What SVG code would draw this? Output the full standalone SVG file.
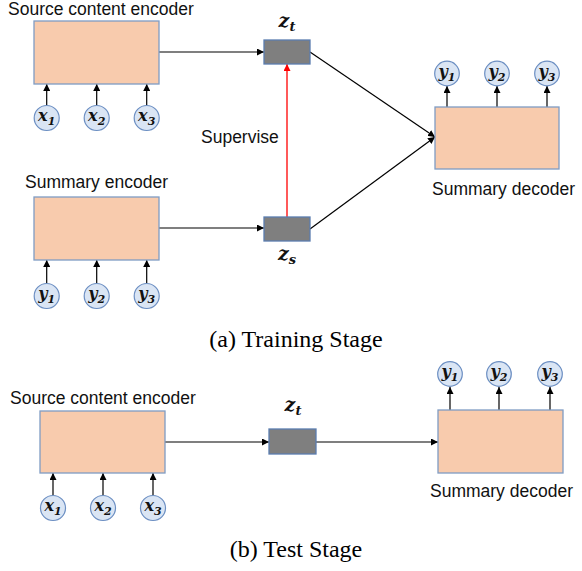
<svg xmlns="http://www.w3.org/2000/svg" width="582" height="571" viewBox="0 0 582 571">
<defs>
<marker id="ah" viewBox="0 0 10 10" refX="10" refY="5" markerWidth="7" markerHeight="7" markerUnits="userSpaceOnUse" orient="auto"><path d="M0,0 L10,5 L0,10 z" fill="#000"/></marker>
<marker id="ahr" viewBox="0 0 10 10" refX="10" refY="5" markerWidth="7" markerHeight="7" markerUnits="userSpaceOnUse" orient="auto"><path d="M0,0 L10,5 L0,10 z" fill="#ff0000"/></marker>
<style>
.box{fill:#f8cbad;stroke:#7f9cc4;stroke-width:1.3}
.lat{fill:#7f7f7f;stroke:#5b7db0;stroke-width:1.3}
.cir{fill:#dae5f4;stroke:#6b8ec2;stroke-width:1.2}
.ln{stroke:#000;stroke-width:1.2;fill:none;marker-end:url(#ah)}
.red{stroke:#ff0000;stroke-width:1.3;fill:none;marker-end:url(#ahr)}
.lbl{font-family:"Liberation Sans",Arial,sans-serif;font-size:17.5px;fill:#111}
.m{font-family:"DejaVu Serif","Liberation Serif",serif;font-weight:bold;font-style:italic;font-size:16px;fill:#111}
.z{font-size:19px}
.sub{font-size:11px}
.cap{font-family:"Liberation Serif","Times New Roman",serif;font-size:24px;fill:#000}
</style>
</defs>
<g id="connectors">
<line class="ln" x1="159" y1="52" x2="264" y2="52"/>
<line class="ln" x1="159" y1="228" x2="264" y2="228"/>
<line class="red" x1="287" y1="217" x2="287" y2="64"/>
<line class="ln" x1="310" y1="52" x2="435" y2="137"/>
<line class="ln" x1="310" y1="229" x2="435" y2="137"/>
<line class="ln" x1="46.7" y1="105" x2="46.7" y2="84"/>
<line class="ln" x1="96.7" y1="105" x2="96.7" y2="84"/>
<line class="ln" x1="146.7" y1="105" x2="146.7" y2="84"/>
<line class="ln" x1="46.7" y1="283" x2="46.7" y2="260"/>
<line class="ln" x1="96.7" y1="283" x2="96.7" y2="260"/>
<line class="ln" x1="146.7" y1="283" x2="146.7" y2="260"/>
<line class="ln" x1="447" y1="107" x2="447" y2="86"/>
<line class="ln" x1="497" y1="107" x2="497" y2="86"/>
<line class="ln" x1="547" y1="107" x2="547" y2="86"/>
<line class="ln" x1="165" y1="442" x2="269" y2="442"/>
<line class="ln" x1="316" y1="442" x2="438" y2="442"/>
<line class="ln" x1="53" y1="495" x2="53" y2="473"/>
<line class="ln" x1="103" y1="495" x2="103" y2="473"/>
<line class="ln" x1="153" y1="495" x2="153" y2="473"/>
<line class="ln" x1="450" y1="410" x2="450" y2="387"/>
<line class="ln" x1="499" y1="410" x2="499" y2="387"/>
<line class="ln" x1="550" y1="410" x2="550" y2="387"/>
</g>
<g id="src_enc_a">
<rect class="box" x="34" y="21" width="125" height="63"/>
<text class="lbl" x="8" y="15">Source content encoder</text>
</g>
<g id="x_a">
<circle class="cir" cx="46.7" cy="118" r="12.5"/><text class="m" x="46.7" y="121" text-anchor="middle">x<tspan class="sub" dy="4">1</tspan></text>
<circle class="cir" cx="96.7" cy="118" r="12.5"/><text class="m" x="96.7" y="121" text-anchor="middle">x<tspan class="sub" dy="4">2</tspan></text>
<circle class="cir" cx="146.7" cy="118" r="12.5"/><text class="m" x="146.7" y="121" text-anchor="middle">x<tspan class="sub" dy="4">3</tspan></text>
</g>
<g id="sum_enc">
<rect class="box" x="34" y="197" width="125" height="63"/>
<text class="lbl" x="25" y="188">Summary encoder</text>
</g>
<g id="y_enc">
<circle class="cir" cx="46.7" cy="296" r="12.5"/><text class="m" x="46.7" y="299" text-anchor="middle">y<tspan class="sub" dy="4">1</tspan></text>
<circle class="cir" cx="96.7" cy="296" r="12.5"/><text class="m" x="96.7" y="299" text-anchor="middle">y<tspan class="sub" dy="4">2</tspan></text>
<circle class="cir" cx="146.7" cy="296" r="12.5"/><text class="m" x="146.7" y="299" text-anchor="middle">y<tspan class="sub" dy="4">3</tspan></text>
</g>
<g id="zt_a">
<rect class="lat" x="264" y="40" width="46" height="24"/>
<text class="m z" x="287" y="27" text-anchor="middle">z<tspan class="sub" dy="4" style="font-size:13px">t</tspan></text>
</g>
<g id="zs">
<rect class="lat" x="264" y="217" width="46" height="24"/>
<text class="m z" x="287" y="260" text-anchor="middle">z<tspan class="sub" dy="4" style="font-size:13px">s</tspan></text>
</g>
<g id="supervise"><text class="lbl" x="201" y="143">Supervise</text></g>
<g id="sum_dec_a">
<rect class="box" x="435" y="107" width="124" height="62"/>
<text class="lbl" x="432" y="195">Summary decoder</text>
</g>
<g id="y_dec_a">
<circle class="cir" cx="447" cy="73.5" r="12.3"/><text class="m" x="447" y="76.5" text-anchor="middle">y<tspan class="sub" dy="4">1</tspan></text>
<circle class="cir" cx="497" cy="73.5" r="12.3"/><text class="m" x="497" y="76.5" text-anchor="middle">y<tspan class="sub" dy="4">2</tspan></text>
<circle class="cir" cx="547" cy="73.5" r="12.3"/><text class="m" x="547" y="76.5" text-anchor="middle">y<tspan class="sub" dy="4">3</tspan></text>
</g>
<g id="cap_a"><text class="cap" x="296" y="347" text-anchor="middle">(a) Training Stage</text></g>
<g id="src_enc_b">
<rect class="box" x="40" y="411" width="125" height="62"/>
<text class="lbl" x="10" y="404">Source content encoder</text>
</g>
<g id="x_b">
<circle class="cir" cx="53" cy="508" r="12.5"/><text class="m" x="53" y="511" text-anchor="middle">x<tspan class="sub" dy="4">1</tspan></text>
<circle class="cir" cx="103" cy="508" r="12.5"/><text class="m" x="103" y="511" text-anchor="middle">x<tspan class="sub" dy="4">2</tspan></text>
<circle class="cir" cx="153" cy="508" r="12.5"/><text class="m" x="153" y="511" text-anchor="middle">x<tspan class="sub" dy="4">3</tspan></text>
</g>
<g id="zt_b">
<rect class="lat" x="269" y="429" width="47" height="25"/>
<text class="m z" x="293" y="411" text-anchor="middle">z<tspan class="sub" dy="4" style="font-size:13px">t</tspan></text>
</g>
<g id="sum_dec_b">
<rect class="box" x="438" y="410" width="125" height="63"/>
<text class="lbl" x="430" y="497">Summary decoder</text>
</g>
<g id="y_dec_b">
<circle class="cir" cx="450" cy="374" r="12.3"/><text class="m" x="450" y="377" text-anchor="middle">y<tspan class="sub" dy="4">1</tspan></text>
<circle class="cir" cx="499" cy="374" r="12.3"/><text class="m" x="499" y="377" text-anchor="middle">y<tspan class="sub" dy="4">2</tspan></text>
<circle class="cir" cx="550" cy="374" r="12.3"/><text class="m" x="550" y="377" text-anchor="middle">y<tspan class="sub" dy="4">3</tspan></text>
</g>
<g id="cap_b"><text class="cap" x="296" y="557" text-anchor="middle">(b) Test Stage</text></g>
</svg>
